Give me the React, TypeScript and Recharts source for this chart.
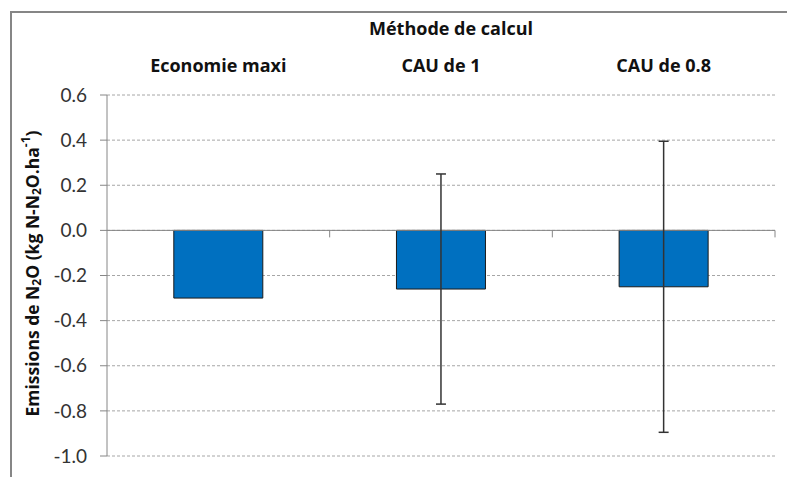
import {
  BarChart,
  Bar,
  XAxis,
  YAxis,
  CartesianGrid,
  ReferenceLine,
  ErrorBar,
} from 'recharts';

const categories = ['Economie maxi', 'CAU de 1', 'CAU de 0.8'];
const emissions = [-0.3, -0.26, -0.25];
const errors = [null, 0.51, 0.645];
const yTicks = [0.6, 0.4, 0.2, 0, -0.2, -0.4, -0.6, -0.8, -1.0];

const FONT = 'Lato, "Open Sans", sans-serif';
const BOLD_FONT = '"Open Sans", Lato, sans-serif';
const AXIS_GRAY = '#868686';

const data = categories.map((name, i) => ({
  name,
  value: emissions[i],
  err: errors[i],
}));

// zero line acting as the category axis, with ticks between categories
function ZeroAxis(props: any) {
  const { x1, x2, y1 } = props;
  const step = (x2 - x1) / categories.length;
  const ticks = categories.map((_, i) => x1 + step * (i + 1));
  return (
    <g>
      <line x1={x1} y1={y1} x2={x2} y2={y1} stroke={AXIS_GRAY} strokeWidth={1} />
      {ticks.map((tx) => (
        <line key={tx} x1={tx} y1={y1} x2={tx} y2={y1 + 7} stroke={AXIS_GRAY} strokeWidth={1} />
      ))}
    </g>
  );
}

function YLabel(props: any) {
  const { viewBox } = props;
  const cx = 34;
  const cy = viewBox.y + viewBox.height / 2 - 2;
  return (
    <text
      x={cx}
      y={cy}
      transform={`rotate(-90, ${cx}, ${cy})`}
      textAnchor="middle"
      dominantBaseline="middle"
      fontFamily={BOLD_FONT}
      fontWeight={700}
      fontSize={17.5}
      fill="#111"
    >
      <tspan>Emissions de N</tspan>
      <tspan fontSize={12} dy={4}>2</tspan>
      <tspan dy={-4}>O (kg N-N</tspan>
      <tspan fontSize={12} dy={4}>2</tspan>
      <tspan dy={-4}>O.ha</tspan>
      <tspan fontSize={12} dy={-7}>-1</tspan>
      <tspan dy={7}>)</tspan>
    </text>
  );
}

export default function App() {
  return (
    <div style={{ position: 'absolute', left: 0, top: 0, width: 787, height: 477, background: '#fff' }}>
      <div
        style={{
          position: 'absolute',
          left: 10,
          top: 11,
          right: 0,
          bottom: 0,
          borderTop: `2px solid ${AXIS_GRAY}`,
          borderLeft: `2px solid ${AXIS_GRAY}`,
        }}
      />
      <div
        style={{
          position: 'absolute',
          left: 451,
          top: 16,
          transform: 'translateX(-50%)',
          fontFamily: BOLD_FONT,
          fontWeight: 700,
          fontSize: 18,
          color: '#111',
          whiteSpace: 'nowrap',
        }}
      >
        Méthode de calcul
      </div>
      <div style={{ position: 'absolute', left: 0, top: 0 }}>
        <BarChart
          width={787}
          height={477}
          data={data}
          margin={{ top: 10, right: 12, bottom: 21, left: 0 }}
          barCategoryGap="30%"
        >
          <CartesianGrid vertical={false} stroke="#A6A6A6" strokeDasharray="3 2" />
          <XAxis
            dataKey="name"
            orientation="top"
            height={85}
            axisLine={false}
            tickLine={false}
            tickSize={0}
            tickMargin={23}
            tick={{ fontFamily: BOLD_FONT, fontWeight: 700, fontSize: 18, fill: '#111' }}
          />
          <YAxis
            width={107}
            domain={[-1, 0.6]}
            ticks={yTicks}
            interval={0}
            tickFormatter={(v: number) => v.toFixed(1)}
            axisLine={{ stroke: AXIS_GRAY }}
            tickLine={{ stroke: AXIS_GRAY }}
            tickSize={7}
            tickMargin={13}
            tick={{ fontFamily: FONT, fontSize: 19, fill: '#333' }}
            label={<YLabel />}
          />
          <ReferenceLine y={0} shape={<ZeroAxis />} />
          <Bar dataKey="value" fill="#0070C0" stroke="#1a1a1a" strokeWidth={1} isAnimationActive={false}>
            <ErrorBar dataKey="err" width={5} stroke="#333" strokeWidth={1.5} isAnimationActive={false} />
          </Bar>
        </BarChart>
      </div>
    </div>
  );
}
